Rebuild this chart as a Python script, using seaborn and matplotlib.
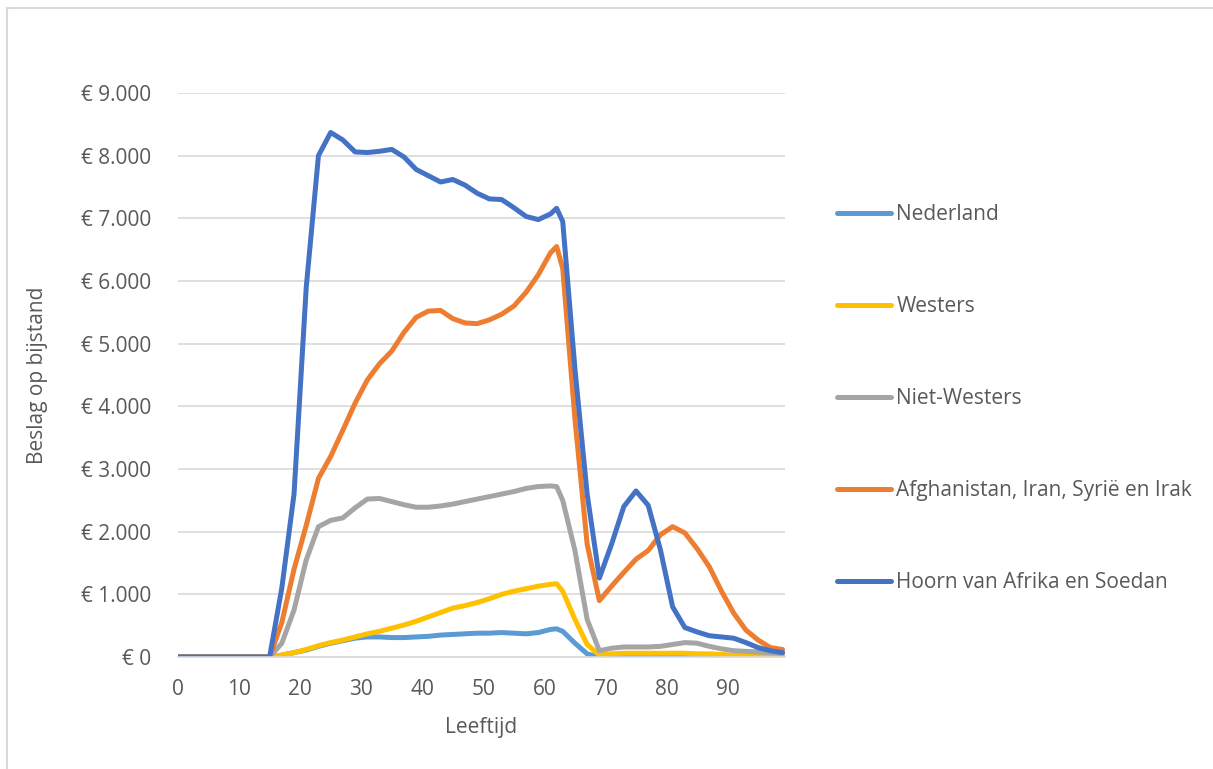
import matplotlib
matplotlib.use("Agg")
import matplotlib.pyplot as plt
import seaborn as sns
import pandas as pd
from matplotlib import patches
from matplotlib.ticker import FuncFormatter

# Leeftijd (x) en beslag op bijstand per herkomstgroep (euro)
leeftijd = [0, 5, 10, 15, 17, 19, 21, 23, 25, 27, 29, 31, 33, 35, 37, 39, 41, 43, 45,
            47, 49, 51, 53, 55, 57, 59, 61, 62, 63, 65, 67, 69, 71, 73, 75, 77, 79,
            81, 83, 85, 87, 89, 91, 93, 95, 97, 99]

nederland = [0, 0, 0, 0, 30, 70, 110, 170, 220, 260, 300, 320, 320, 310, 310, 320,
             330, 350, 360, 370, 380, 380, 390, 380, 370, 390, 440, 450, 410, 220,
             50, 0, 0, 0, 0, 0, 0, 0, 0, 0, 0, 0, 0, 0, 0, 0, 0]

westers = [0, 0, 0, 0, 30, 70, 120, 180, 230, 270, 320, 370, 410, 460, 510, 570,
           640, 710, 780, 820, 870, 930, 1000, 1050, 1090, 1130, 1160, 1170, 1050,
           600, 200, 30, 50, 60, 60, 60, 60, 60, 60, 50, 50, 40, 30, 30, 20, 10, 0]

niet_westers = [0, 0, 0, 0, 220, 750, 1550, 2080, 2180, 2220, 2380, 2520, 2530,
                2480, 2430, 2390, 2390, 2410, 2440, 2480, 2520, 2560, 2600, 2640,
                2690, 2720, 2730, 2720, 2500, 1700, 600, 100, 140, 160, 160, 160,
                170, 200, 230, 220, 170, 130, 100, 90, 80, 70, 60]

afghanistan = [0, 0, 0, 0, 550, 1400, 2100, 2850, 3200, 3620, 4050, 4420, 4680,
               4880, 5180, 5420, 5520, 5530, 5400, 5330, 5320, 5380, 5470, 5600,
               5820, 6100, 6450, 6550, 6200, 3800, 1800, 900, 1130, 1350, 1560,
               1700, 1950, 2080, 1980, 1730, 1440, 1050, 700, 430, 270, 150, 120]

hoorn = [0, 0, 0, 0, 1100, 2600, 5900, 8000, 8370, 8250, 8060, 8050, 8070, 8100,
         7980, 7780, 7680, 7580, 7620, 7530, 7400, 7310, 7300, 7170, 7030, 6980,
         7070, 7160, 6950, 4600, 2600, 1260, 1800, 2400, 2650, 2420, 1710, 800,
         470, 400, 340, 320, 300, 230, 150, 100, 70]

reeksen = ["Nederland", "Westers", "Niet-Westers",
           "Afghanistan, Iran, Syrië en Irak", "Hoorn van Afrika en Soedan"]
kleuren = ["#5B9BD5", "#FFC000", "#A5A5A5", "#ED7D31", "#4472C4"]

df = pd.DataFrame({"Leeftijd": leeftijd, reeksen[0]: nederland, reeksen[1]: westers,
                   reeksen[2]: niet_westers, reeksen[3]: afghanistan,
                   reeksen[4]: hoorn})
long_df = df.melt(id_vars="Leeftijd", var_name="groep", value_name="beslag")

sns.set_style("white")
plt.rcParams["font.family"] = ["Open Sans", "DejaVu Sans"]
tekst = "#595959"
fs = 15

fig = plt.figure(figsize=(12.13, 7.69), dpi=100)
ax = fig.add_axes([178 / 1213, 1 - 657 / 769, (785 - 178) / 1213, (657 - 93) / 769])

sns.lineplot(data=long_df, x="Leeftijd", y="beslag", hue="groep",
             hue_order=reeksen, palette=kleuren, linewidth=3.6,
             solid_capstyle="round", solid_joinstyle="round", ax=ax)

ax.set_xlim(0, 99.4)
ax.set_ylim(0, 9000)
ax.set_xticks(range(0, 100, 10))
ax.set_yticks(range(0, 9001, 1000))
ax.yaxis.set_major_formatter(
    FuncFormatter(lambda v, p: "€ 0" if v == 0 else "€ " + f"{int(v):,}".replace(",", ".")))
ax.grid(axis="y", color="#D9D9D9", linewidth=1.2)
ax.set_axisbelow(True)
for side in ["top", "right", "left"]:
    ax.spines[side].set_visible(False)
ax.spines["bottom"].set_color("#D9D9D9")
ax.spines["bottom"].set_linewidth(1.2)
ax.tick_params(axis="both", length=0, labelsize=fs, labelcolor=tekst)
ax.tick_params(axis="x", pad=16)
ax.tick_params(axis="y", pad=19)
ax.set_xlabel("Leeftijd", fontsize=fs, color=tekst, labelpad=12)
ax.set_ylabel("Beslag op bijstand", fontsize=fs, color=tekst, labelpad=24)

handles, labels = ax.get_legend_handles_labels()
ax.legend(handles, labels, loc="center left", bbox_to_anchor=(1.0, 0.458),
          frameon=False, fontsize=fs, labelcolor=tekst, handlelength=2.6,
          handletextpad=0.25, labelspacing=3.41, borderaxespad=2.1)

# rand van het grafiekgebied
fig.add_artist(patches.Rectangle((7 / 1213, -0.1), 1.2, 1.1 - 8 / 769,
                                 transform=fig.transFigure, fill=False,
                                 edgecolor="#D9D9D9", linewidth=1.5))

fig.savefig("out.png", dpi=100)
